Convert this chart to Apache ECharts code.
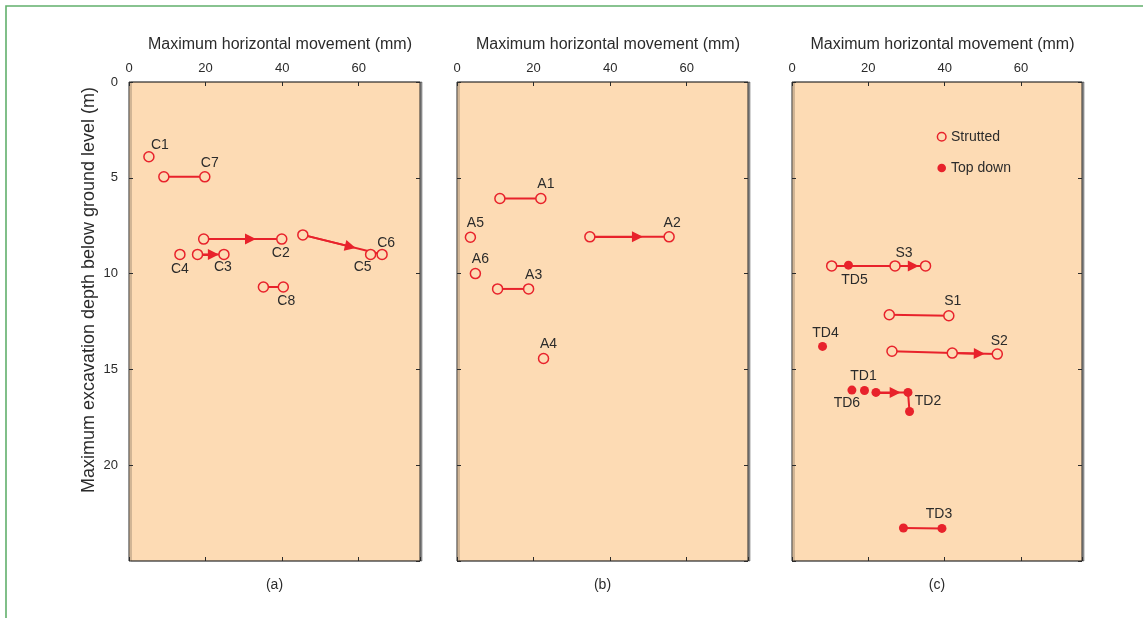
<!DOCTYPE html>
<html>
<head>
<meta charset="utf-8">
<script src="https://cdn.jsdelivr.net/npm/echarts@6/dist/echarts.min.js"></script>
<style>
  html, body { margin: 0; padding: 0; background: #fff; }
  #chart { width: 1143px; height: 618px; }
</style>
</head>
<body>
<div id="chart"></div>
<script>
// Maximum horizontal wall movement (mm) against excavation depth (m)
const movementTicks = [0, 20, 40, 60];
const depthTicks = [0, 5, 10, 15, 20];
const panelCaptions = ['(a)', '(b)', '(c)'];
const movementTitle = 'Maximum horizontal movement (mm)';
const depthTitle = 'Maximum excavation depth below ground level (m)';
const legendNames = ['Strutted', 'Top down'];

// Panel (a) — each point is [movement mm, depth m]
const C1 = [[5.2, 3.9]];
const C7 = [[9.1, 4.95], [19.8, 4.95]];
const C2 = [[19.5, 8.2], [39.9, 8.2]];
const C6 = [[45.4, 7.98], [66.1, 9.0]];
const C5 = [[63.1, 9.0]];
const C4 = [[13.3, 9.0]];
const C3 = [[17.9, 9.0], [24.8, 9.0]];
const C8 = [[35.1, 10.7], [40.3, 10.7]];

// Panel (b)
const A1 = [[11.2, 6.08], [21.9, 6.08]];
const A5 = [[3.5, 8.1]];
const A2 = [[34.7, 8.08], [55.4, 8.08]];
const A6 = [[4.8, 10.0]];
const A3 = [[10.6, 10.8], [18.7, 10.8]];
const A4 = [[22.6, 14.43]];

// Panel (c) — strutted
const S3 = [[10.4, 9.6], [27.0, 9.6], [35.0, 9.6]];
const S1 = [[25.5, 12.15], [41.1, 12.2]];
const S2 = [[26.2, 14.05], [42.0, 14.15], [53.8, 14.2]];
// Panel (c) — top down
const TD5 = [[14.8, 9.56]];
const TD4 = [[8.0, 13.8]];
const TD6 = [[15.7, 16.08]];
const TD1 = [[19.0, 16.1]];
const TD2 = [[22.0, 16.2], [30.4, 16.2], [30.8, 17.2]];
const TD3 = [[29.2, 23.28], [39.3, 23.3]];

const RED = '#e8222b';
const FILL = '#fddbb4';
const INK = '#2b2b2b';
const FONT = '"Liberation Sans", Arial, sans-serif';

const panels = [
  { left: 129, width: 291 },
  { left: 457, width: 291 },
  { left: 792, width: 290 }
];
const PLOT_TOP = 82, PLOT_H = 479;

// name, points, panel, filled, label point index, label offset, arrow segment
const groups = [
  ['C1', C1, 0, false, 0, [11, -12]],
  ['C7', C7, 0, false, 1, [5, -14]],
  ['C2', C2, 0, false, 1, [-1, 14], [0, 1]],
  ['C6', C6, 0, false, 1, [4, -11], [0, 1]],
  ['C5', C5, 0, false, 0, [-8, 13]],
  ['C4', C4, 0, false, 0, [0, 15]],
  ['C3', C3, 0, false, 1, [-1, 13], [0, 1]],
  ['C8', C8, 0, false, 1, [3, 14]],
  ['A1', A1, 1, false, 1, [5, -14]],
  ['A5', A5, 1, false, 0, [5, -14]],
  ['A2', A2, 1, false, 1, [3, -14], [0, 1]],
  ['A6', A6, 1, false, 0, [5, -14]],
  ['A3', A3, 1, false, 1, [5, -14]],
  ['A4', A4, 1, false, 0, [5, -14]],
  ['S3', S3, 2, false, 1, [9, -13], [1, 2]],
  ['S1', S1, 2, false, 1, [4, -15]],
  ['S2', S2, 2, false, 2, [2, -13], [1, 2]],
  ['TD5', TD5, 2, true, 0, [6, 15]],
  ['TD4', TD4, 2, true, 0, [3, -13]],
  ['TD6', TD6, 2, true, 0, [-5, 13]],
  ['TD1', TD1, 2, true, 0, [-1, -14]],
  ['TD2', TD2, 2, true, 1, [20, 9], [0, 1]],
  ['TD3', TD3, 2, true, 1, [-3, -14]]
];

const labelText = { color: INK, fontSize: 14, fontFamily: FONT };

const grids = [], xAxes = [], yAxes = [], series = [];

panels.forEach((p, i) => {
  grids.push({
    left: p.left, top: PLOT_TOP, width: p.width, height: PLOT_H,
    show: true, backgroundColor: FILL, borderColor: INK, borderWidth: 1,
    shadowColor: 'rgba(0,0,0,0.35)', shadowOffsetX: 2, shadowBlur: 0
  });
  // frame comes from the grid border; axes stay on their own sides
  const line = () => ({ show: false, onZero: false });
  const tick = () => ({ show: true, inside: true, length: 4, lineStyle: { color: INK, width: 1 } });
  const xBase = {
    type: 'value', gridIndex: i, min: 0, max: 76, interval: 20,
    splitLine: { show: false }
  };
  xAxes.push(Object.assign({}, xBase, {
    position: 'top', axisLine: line(), axisTick: tick(),
    name: movementTitle, nameLocation: 'middle', nameGap: 29,
    nameTextStyle: { color: INK, fontSize: 16, fontFamily: FONT, padding: [0, 0, 0, 11] },
    axisLabel: {
      show: true, margin: 7, color: INK, fontSize: 13, fontFamily: FONT,
      showMaxLabel: false,
      formatter: v => (movementTicks.includes(v) ? String(v) : '')
    }
  }));
  xAxes.push(Object.assign({}, xBase, {
    position: 'bottom', axisLine: line(), axisTick: tick(), axisLabel: { show: false }
  }));
  const yBase = {
    type: 'value', gridIndex: i, min: 0, max: 25, interval: 5, inverse: true,
    splitLine: { show: false }
  };
  yAxes.push(Object.assign({}, yBase, {
    position: 'left', axisLine: line(), axisTick: tick(),
    axisLabel: {
      show: i === 0, margin: 11, color: INK, fontSize: 13, fontFamily: FONT,
      showMaxLabel: false,
      formatter: v => (depthTicks.includes(v) ? String(v) : '')
    }
  }));
  yAxes.push(Object.assign({}, yBase, {
    position: 'right', axisLine: line(), axisTick: tick(), axisLabel: { show: false }
  }));
});

groups.forEach(([name, pts, panel, filled, labelIdx, offset, arrow]) => {
  series.push({
    type: 'line',
    name: filled ? legendNames[1] : legendNames[0],
    xAxisIndex: panel * 2, yAxisIndex: panel * 2,
    data: pts.map((pt, k) => ({
      value: pt,
      label: k === labelIdx
        ? Object.assign({ show: true, formatter: name, position: 'inside', offset: offset }, labelText)
        : { show: false }
    })),
    symbol: 'circle', symbolSize: filled ? 9 : 10, showAllSymbol: true,
    itemStyle: filled ? { color: RED } : { color: FILL, borderColor: RED, borderWidth: 1.5 },
    lineStyle: { color: RED, width: 2 },
    z: filled ? 4 : 3,
    silent: true, emphasis: { disabled: true }
  });
  if (arrow) {
    const a = pts[arrow[0]], b = pts[arrow[1]];
    const tip = [a[0] + (b[0] - a[0]) * 0.6, a[1] + (b[1] - a[1]) * 0.6];
    series.push({
      type: 'lines', coordinateSystem: 'cartesian2d',
      xAxisIndex: panel * 2, yAxisIndex: panel * 2,
      data: [{ coords: [a, tip] }],
      symbol: ['none', 'triangle'], symbolSize: 11,
      lineStyle: { color: RED, width: 2, opacity: 1 },
      z: 2, silent: true
    });
  }
});

const graphics = [
  // green frame
  { type: 'rect', shape: { x: 6, y: 6, width: 1300, height: 800 },
    style: { fill: 'none', stroke: '#62b06c', lineWidth: 1.6 }, z: 0 },
  // depth axis title
  { type: 'text', x: 89, y: 290, rotation: Math.PI / 2,
    style: { text: depthTitle, fill: INK, fontSize: 18, fontFamily: FONT, align: 'center', verticalAlign: 'middle' } },
  // legend
  { type: 'circle', shape: { cx: 941.7, cy: 136.7, r: 4.3 }, style: { fill: FILL, stroke: RED, lineWidth: 1.5 }, z: 100 },
  { type: 'text', x: 951, y: 136.7, style: { text: legendNames[0], fill: INK, fontSize: 14, fontFamily: FONT, verticalAlign: 'middle' }, z: 100 },
  { type: 'circle', shape: { cx: 941.7, cy: 168, r: 4.3 }, style: { fill: RED }, z: 100 },
  { type: 'text', x: 951, y: 168, style: { text: legendNames[1], fill: INK, fontSize: 14, fontFamily: FONT, verticalAlign: 'middle' }, z: 100 }
];
panels.forEach((p, i) => {
  graphics.push({ type: 'text', x: p.left + p.width / 2, y: 585,
    style: { text: panelCaptions[i], fill: INK, fontSize: 14, fontFamily: FONT, align: 'center', verticalAlign: 'middle' } });
});

const chart = echarts.init(document.getElementById('chart'), null, { renderer: 'canvas' });
chart.setOption({
  animation: false,
  backgroundColor: '#fff',
  grid: grids,
  xAxis: xAxes,
  yAxis: yAxes,
  series: series,
  graphic: graphics
});
</script>
</body>
</html>
